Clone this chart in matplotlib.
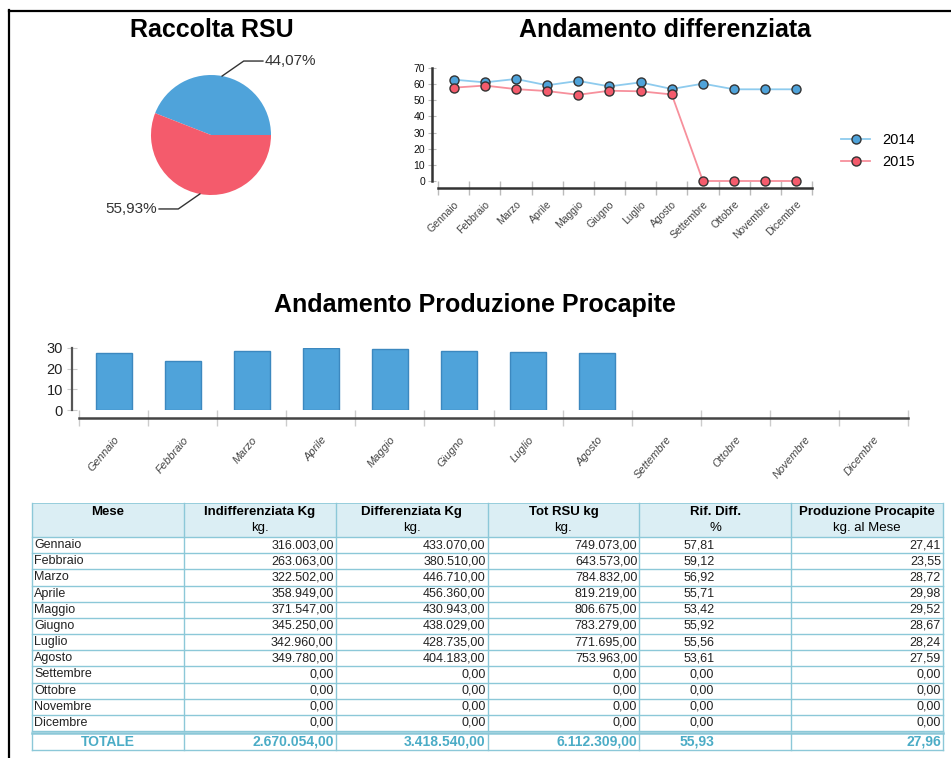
import numpy as np
import matplotlib
matplotlib.use("Agg")
import matplotlib.pyplot as plt
from matplotlib.patches import Rectangle

# --- data ---
mesi = ["Gennaio", "Febbraio", "Marzo", "Aprile", "Maggio", "Giugno",
        "Luglio", "Agosto", "Settembre", "Ottobre", "Novembre", "Dicembre"]
indiff = [316003, 263063, 322502, 358949, 371547, 345250, 342960, 349780, 0, 0, 0, 0]
diff = [433070, 380510, 446710, 456360, 430943, 438029, 428735, 404183, 0, 0, 0, 0]
tot_rsu = [749073, 643573, 784832, 819219, 806675, 783279, 771695, 753963, 0, 0, 0, 0]
rif_diff = [57.81, 59.12, 56.92, 55.71, 53.42, 55.92, 55.56, 53.61, 0, 0, 0, 0]
procapite = [27.41, 23.55, 28.72, 29.98, 29.52, 28.67, 28.24, 27.59, 0, 0, 0, 0]
totali = [2670054, 3418540, 6112309, 55.93, 27.96]

diff_2014 = [62.8, 61.1, 63.2, 59.3, 62.0, 58.6, 61.1, 57.0, 60.3, 56.8, 56.8, 56.8]
diff_2015 = rif_diff

pie_vals = [44.07, 55.93]
pie_labels = ["44,07%", "55,93%"]

header = ["Mese", "Indifferenziata Kg", "Differenziata Kg", "Tot RSU kg",
          "Rif. Diff.", "Produzione Procapite"]
units = ["", "kg.", "kg.", "kg.", "%", "kg. al Mese"]

BLUE = "#4fa3da"
RED = "#f45b6c"
TEAL = "#4bacc6"
GRID = "#8cc8d8"

W, H = 951, 758
plt.rcParams["font.family"] = ["Liberation Sans", "DejaVu Sans"]


def box(l, t, w, h):
    return [l / W, 1 - (t + h) / H, w / W, h / H]


def pt(px):
    return px * 72 / 100


def it_num(v):
    s = f"{v:,.2f}"
    return s.replace(",", "X").replace(".", ",").replace("X", ".")


fig = plt.figure(figsize=(W / 100, H / 100), dpi=100)

# page frame
fig.add_artist(plt.Line2D([9 / W, 9 / W], [0, 1 - 10 / H], color="black", lw=1.6))
fig.add_artist(plt.Line2D([9 / W, 1], [1 - 11 / H, 1 - 11 / H], color="black", lw=1.6))

# titles
fig.text(212 / W, 1 - 30 / H, "Raccolta RSU", ha="center", va="center",
         fontsize=18, fontweight="bold")
fig.text(665 / W, 1 - 30 / H, "Andamento differenziata", ha="center", va="center",
         fontsize=18, fontweight="bold")
fig.text(475 / W, 1 - 305 / H, "Andamento Produzione Procapite", ha="center",
         va="center", fontsize=18, fontweight="bold")

# --- pie ---
ax = fig.add_axes(box(151, 75, 120, 120))
ax.pie(pie_vals, colors=[BLUE, RED], startangle=0, counterclock=True,
       wedgeprops=dict(linewidth=0))
ax.set_xlim(-1, 1)
ax.set_ylim(-1, 1)
ax.set_aspect("equal")
cum = np.cumsum([0] + pie_vals)
for i, lab in enumerate(pie_labels):
    mid = np.deg2rad((cum[i] + cum[i + 1]) / 2 * 3.6)
    x0, y0 = np.cos(mid), np.sin(mid)
    side = 1 if x0 > 0 else -1
    x1, y1 = x0 + side * 0.36, y0 + np.sign(y0) * 0.25
    x2 = x1 + side * 0.32
    ax.plot([x0, x1, x2], [y0, y1, y1], color="#333333", lw=1.0, clip_on=False)
    ax.text(x2 + side * 0.03, y1, lab, ha="left" if side > 0 else "right",
            va="center", fontsize=11, color="#333333", clip_on=False)

# --- line chart ---
ax = fig.add_axes(box(438, 68, 374, 113))
x = np.arange(len(mesi))
ax.plot(x, diff_2014, color="#8ecbee", lw=1.3, marker="o", ms=6.5,
        mfc=BLUE, mec="#333333", mew=1.0, label="2014", clip_on=False, zorder=3)
ax.plot(x, diff_2015, color="#f7909c", lw=1.3, marker="o", ms=6.5,
        mfc=RED, mec="#333333", mew=1.0, label="2015", clip_on=False, zorder=3)
ax.set_xlim(-0.5, len(mesi) - 0.5)
ax.set_ylim(0, 70)
ax.set_yticks(range(0, 71, 10))
for s in ["top", "right"]:
    ax.spines[s].set_visible(False)
ax.spines["left"].set_position(("outward", pt(6)))
ax.spines["bottom"].set_position(("outward", pt(7)))
ax.spines["left"].set_linewidth(1.8)
ax.spines["bottom"].set_linewidth(1.8)
ax.spines["left"].set_color("#333333")
ax.spines["bottom"].set_color("#333333")
ax.tick_params(axis="y", direction="inout", length=6, color="#bbbbbb",
               labelsize=7.5, labelcolor="#111111", pad=2)
ax.set_xticks(x)
ax.set_xticklabels(mesi, rotation=45, ha="right", rotation_mode="anchor",
                   fontsize=7.5, color="#444444")
ax.tick_params(axis="x", which="major", length=0, pad=8)
ax.set_xticks(np.arange(-0.5, len(mesi)), minor=True)
ax.tick_params(axis="x", which="minor", direction="inout", length=10,
               color="#bbbbbb", width=1)
ax.patch.set_visible(False)
ax.legend(loc="center left", bbox_to_anchor=(828 / W, 1 - 151 / H),
          bbox_transform=fig.transFigure, frameon=False, fontsize=10.5,
          handlelength=2.0, labelspacing=0.6, handletextpad=0.8)

# --- bar chart ---
ax = fig.add_axes(box(79, 348, 829, 62))
ax.bar(x, procapite, width=0.52, color=BLUE, edgecolor="#3c88bf",
       linewidth=[1 if v > 0 else 0 for v in procapite])
ax.set_xlim(-0.5, len(mesi) - 0.5)
ax.set_ylim(0, 30)
ax.set_yticks(range(0, 31, 10))
for s in ["top", "right"]:
    ax.spines[s].set_visible(False)
ax.spines["left"].set_position(("outward", pt(7)))
ax.spines["bottom"].set_position(("outward", pt(8)))
ax.spines["left"].set_linewidth(1.6)
ax.spines["bottom"].set_linewidth(1.8)
ax.spines["left"].set_color("#555555")
ax.spines["bottom"].set_color("#444444")
ax.tick_params(axis="y", direction="inout", length=7, color="#cccccc",
               labelsize=10.5, labelcolor="#222222", pad=3)
ax.set_xticks(x)
ax.set_xticklabels(mesi, rotation=50, ha="right", rotation_mode="anchor",
                   fontsize=8, color="#444444", style="italic")
ax.tick_params(axis="x", which="major", length=0, pad=12)
ax.set_xticks(np.arange(-0.5, len(mesi)), minor=True)
ax.tick_params(axis="x", which="minor", direction="inout", length=12,
               color="#cccccc", width=1)
ax.patch.set_visible(False)

# --- table ---
tx = fig.add_axes([0, 0, 1, 1])
tx.set_xlim(0, W)
tx.set_ylim(H, 0)
tx.axis("off")

ncol = len(header)
left, right = 32, 943
cw = (right - left) / ncol
col_x = [left + i * cw for i in range(ncol + 1)]
head_top, head_bot = 503, 537
row_h = (731 - head_bot) / len(mesi)
tot_top, tot_bot = 733, 750

tx.add_patch(Rectangle((left, head_top), right - left, head_bot - head_top,
                       facecolor="#dbeef4", edgecolor="none"))
for i in range(ncol):
    c = col_x[i] + cw / 2
    tx.text(c, 512, header[i], ha="center", va="center", fontsize=9.5,
            fontweight="bold")
    if units[i]:
        tx.text(c, 528, units[i], ha="center", va="center", fontsize=9.5)

rows = list(zip(mesi, indiff, diff, tot_rsu, rif_diff, procapite))
for r, row in enumerate(rows):
    yc = head_bot + (r + 0.5) * row_h
    tx.text(col_x[0] + 2, yc, row[0], ha="left", va="center", fontsize=9,
            color="#222222")
    for j in range(1, ncol):
        xr = col_x[j + 1] - 2 if j != 4 else col_x[4] + 75
        tx.text(xr, yc, it_num(row[j]), ha="right", va="center", fontsize=9,
                color="#222222")

yc = (tot_top + tot_bot) / 2
tx.text(col_x[0] + cw / 2, yc, "TOTALE", ha="center", va="center", fontsize=10,
        fontweight="bold", color=TEAL)
for j, v in enumerate(totali, start=1):
    xr = col_x[j + 1] - 2 if j != 4 else col_x[4] + 75
    tx.text(xr, yc, it_num(v), ha="right", va="center", fontsize=10,
            fontweight="bold", color=TEAL)

# grid lines
for r in range(len(mesi) + 1):
    yy = head_bot + r * row_h
    tx.plot([left, right], [yy, yy], color=GRID, lw=1)
tx.plot([left, right], [head_top, head_top], color=GRID, lw=0.6)
for xx in col_x:
    tx.plot([xx, xx], [head_top, head_bot + len(mesi) * row_h], color=GRID, lw=1)
    tx.plot([xx, xx], [tot_top, tot_bot], color=GRID, lw=1)
tx.plot([left, right], [tot_top, tot_top], color=GRID, lw=1.8)
tx.plot([left, right], [tot_bot, tot_bot], color=GRID, lw=1)

fig.savefig("out.png", dpi=100)
